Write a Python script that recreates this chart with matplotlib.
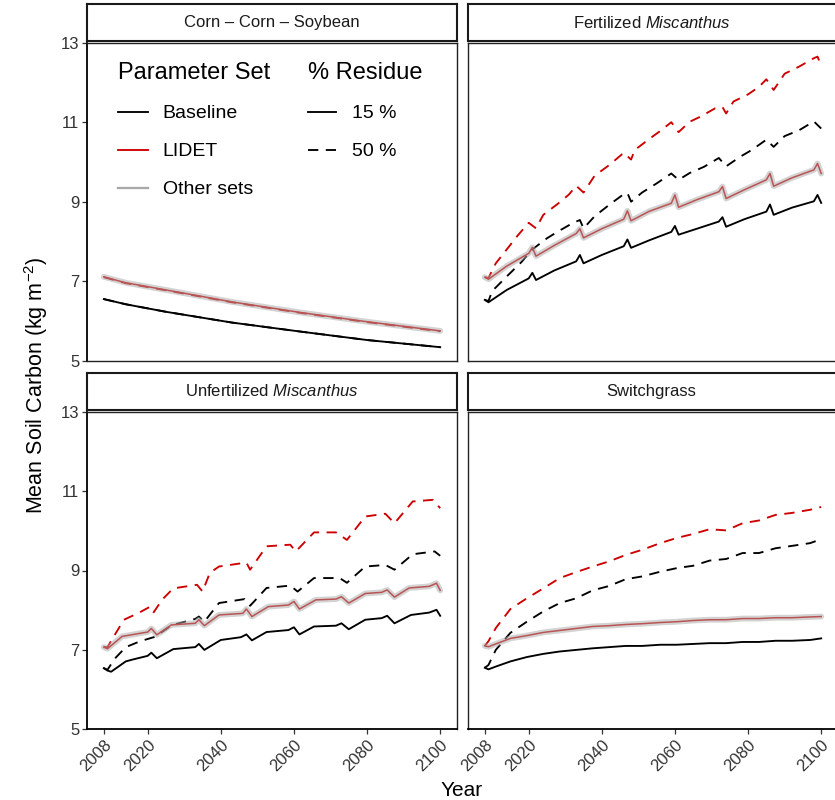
import numpy as np
import matplotlib.pyplot as plt
from matplotlib.lines import Line2D

plt.rcParams['font.family'] = ['Liberation Sans', 'DejaVu Sans']
plt.rcParams['mathtext.fontset'] = 'custom'
plt.rcParams['mathtext.rm'] = 'Liberation Sans'
plt.rcParams['mathtext.it'] = 'Liberation Sans:italic'
plt.rcParams['mathtext.default'] = 'regular'

RED = '#CD0000'
GREY = '#A8A8A8'
TXT = '#333333'

# ---- data ----
# Corn - Corn - Soybean
ccs_years = [2008, 2014, 2025, 2043, 2062, 2080, 2100]
ccs_base15 = [6.55, 6.42, 6.23, 5.96, 5.73, 5.52, 5.34]
ccs_base50 = [6.55, 6.42, 6.23, 5.96, 5.73, 5.52, 5.34]
ccs_lidet15 = [7.11, 6.96, 6.78, 6.48, 6.21, 5.98, 5.75]
ccs_lidet50 = [7.10, 6.95, 6.77, 6.47, 6.20, 5.97, 5.74]
ccs_other = [7.11, 6.96, 6.78, 6.48, 6.21, 5.98, 5.75]

# Fertilized Miscanthus
fm_years15 = [2008, 2009, 2014, 2020, 2021, 2022, 2027, 2033, 2034, 2035, 2040, 2046, 2047,
              2048, 2053, 2059, 2060, 2061, 2066, 2072, 2073, 2074, 2079, 2085, 2086, 2087,
              2092, 2098, 2099, 2100]
fm_base15 = [6.53, 6.47, 6.78, 7.07, 7.21, 7.03, 7.27, 7.50, 7.66, 7.45, 7.66, 7.88, 8.05,
             7.84, 8.03, 8.24, 8.39, 8.17, 8.32, 8.50, 8.61, 8.37, 8.56, 8.75, 8.93, 8.67,
             8.85, 9.01, 9.17, 8.97]
fm_lidet15 = [7.10, 7.05, 7.38, 7.70, 7.85, 7.63, 7.90, 8.20, 8.32, 8.09, 8.32, 8.56, 8.77,
              8.52, 8.76, 8.96, 9.17, 8.86, 9.05, 9.25, 9.38, 9.08, 9.30, 9.55, 9.71, 9.39,
              9.60, 9.80, 9.96, 9.71]
fm_other = fm_lidet15
fm_years_b50 = [2008, 2009, 2010, 2014, 2018, 2021, 2025, 2028, 2032, 2034, 2035, 2038, 2042,
                2046, 2047, 2048, 2051, 2055, 2059, 2061, 2064, 2068, 2072, 2074, 2078, 2081,
                2085, 2087, 2090, 2094, 2098, 2100]
fm_base50 = [6.53, 6.50, 6.75, 7.12, 7.48, 7.80, 8.08, 8.25, 8.46, 8.54, 8.33, 8.63, 8.92,
             9.19, 9.22, 9.00, 9.23, 9.46, 9.71, 9.55, 9.72, 9.88, 10.10, 9.89, 10.14, 10.30,
             10.56, 10.38, 10.65, 10.80, 11.02, 10.84]
fm_years_l50 = [2008, 2009, 2011, 2014, 2017, 2020, 2022, 2024, 2028, 2031, 2033, 2035, 2038,
                2042, 2046, 2048, 2049, 2053, 2056, 2059, 2061, 2064, 2067, 2071, 2073, 2074,
                2076, 2080, 2083, 2085, 2087, 2090, 2094, 2098, 2099, 2100]
fm_lidet50 = [7.10, 7.08, 7.45, 7.80, 8.15, 8.47, 8.33, 8.67, 8.95, 9.18, 9.40, 9.23, 9.65,
              9.92, 10.23, 10.06, 10.30, 10.58, 10.78, 11.00, 10.75, 11.01, 11.14, 11.35,
              11.38, 11.22, 11.52, 11.70, 11.89, 12.08, 11.81, 12.22, 12.40, 12.61, 12.65, 12.42]

# Unfertilized Miscanthus
um_years_b15 = [2008, 2009, 2010, 2014, 2016, 2020, 2021, 2022.5, 2027, 2033, 2034, 2035.5,
                2040, 2045.5, 2047, 2048.5, 2052.5, 2058.5, 2060, 2061.5, 2065.5, 2071.5, 2073,
                2075, 2079.5, 2084, 2085.5, 2087.5, 2092, 2097, 2099, 2100]
um_base15 = [6.54, 6.48, 6.45, 6.71, 6.76, 6.85, 6.93, 6.79, 7.02, 7.07, 7.15, 7.00, 7.25,
             7.32, 7.39, 7.24, 7.45, 7.50, 7.57, 7.39, 7.59, 7.61, 7.67, 7.52, 7.76, 7.80,
             7.86, 7.67, 7.88, 7.94, 8.01, 7.86]
um_years_l15 = [2008, 2009, 2013, 2020, 2021, 2022.5, 2026.5, 2033, 2034, 2035.5, 2039.5, 2046,
                2047, 2048.5, 2053, 2058.5, 2060, 2061.5, 2066, 2071.5, 2073, 2075, 2079.5,
                2084, 2085.5, 2087.5, 2091.5, 2097, 2099, 2100]
um_lidet15 = [7.07, 7.03, 7.34, 7.45, 7.54, 7.38, 7.63, 7.67, 7.76, 7.61, 7.88, 7.92, 8.03,
              7.84, 8.09, 8.13, 8.22, 8.03, 8.26, 8.28, 8.34, 8.18, 8.42, 8.45, 8.51, 8.33,
              8.56, 8.60, 8.68, 8.50]
um_other = um_lidet15
um_years_b50 = [2008, 2009, 2011, 2014, 2018, 2022, 2026.5, 2033, 2034, 2035.5, 2039.5, 2046.5,
                2048, 2052.5, 2059, 2061, 2065.5, 2072.5, 2074.5, 2079.5, 2085, 2087.5, 2092.5,
                2098.5, 2100]
um_base50 = [6.54, 6.50, 6.78, 7.07, 7.22, 7.33, 7.62, 7.78, 7.84, 7.71, 8.18, 8.28, 8.11,
             8.56, 8.62, 8.47, 8.81, 8.81, 8.69, 9.10, 9.14, 9.02, 9.41, 9.48, 9.37]
um_years_l50 = [2008, 2009, 2011, 2013.5, 2017.5, 2020.5, 2021.5, 2024, 2027, 2033.5, 2035,
                2037, 2039.5, 2047, 2048, 2052.5, 2059, 2060.5, 2065.5, 2071.5, 2074.5, 2079.5,
                2085, 2087.5, 2092.5, 2098, 2100]
um_lidet50 = [7.07, 7.07, 7.38, 7.76, 7.93, 8.08, 7.93, 8.27, 8.55, 8.64, 8.47, 8.94, 9.10,
              9.20, 9.02, 9.61, 9.65, 9.48, 9.96, 9.96, 9.77, 10.36, 10.43, 10.19, 10.74,
              10.78, 10.57]

# Switchgrass
sw_years = [2008, 2009, 2011, 2015, 2019.5, 2024, 2028.5, 2033, 2037.5, 2042, 2046.5, 2051,
            2056, 2060.5, 2065, 2069.5, 2074, 2078.5, 2083, 2087.5, 2092, 2097, 2100]
sw_base15 = [6.55, 6.51, 6.58, 6.71, 6.82, 6.90, 6.96, 7.00, 7.04, 7.07, 7.10, 7.10, 7.13,
             7.13, 7.15, 7.17, 7.17, 7.20, 7.20, 7.23, 7.23, 7.25, 7.29]
sw_lidet15 = [7.10, 7.08, 7.15, 7.29, 7.36, 7.44, 7.49, 7.54, 7.59, 7.61, 7.64, 7.66, 7.69,
              7.71, 7.74, 7.76, 7.76, 7.79, 7.79, 7.81, 7.81, 7.83, 7.84]
sw_other = sw_lidet15
sw_base50 = [6.55, 6.62, 7.00, 7.43, 7.71, 7.97, 8.18, 8.30, 8.50, 8.61, 8.78, 8.85, 8.97,
             9.06, 9.12, 9.25, 9.29, 9.44, 9.44, 9.56, 9.62, 9.69, 9.79]
sw_lidet50 = [7.10, 7.22, 7.55, 8.03, 8.30, 8.55, 8.81, 8.96, 9.10, 9.23, 9.39, 9.52, 9.69,
              9.82, 9.92, 10.04, 10.01, 10.19, 10.26, 10.40, 10.45, 10.53, 10.60]

titles = ['Corn \u2013 Corn \u2013 Soybean', 'Fertilized $\\it{Miscanthus}$',
          'Unfertilized $\\it{Miscanthus}$', 'Switchgrass']
year_ticks = [2008, 2020, 2040, 2060, 2080, 2100]
c_ticks = [5, 7, 9, 11, 13]

panels = [
    dict(b15=(ccs_years, ccs_base15), b50=(ccs_years, ccs_base50),
         l15=(ccs_years, ccs_lidet15), l50=(ccs_years, ccs_lidet50), oth=(ccs_years, ccs_other)),
    dict(b15=(fm_years15, fm_base15), b50=(fm_years_b50, fm_base50),
         l15=(fm_years15, fm_lidet15), l50=(fm_years_l50, fm_lidet50), oth=(fm_years15, fm_other)),
    dict(b15=(um_years_b15, um_base15), b50=(um_years_b50, um_base50),
         l15=(um_years_l15, um_lidet15), l50=(um_years_l50, um_lidet50), oth=(um_years_l15, um_other)),
    dict(b15=(sw_years, sw_base15), b50=(sw_years, sw_base50),
         l15=(sw_years, sw_lidet15), l50=(sw_years, sw_lidet50), oth=(sw_years, sw_other)),
]

# ---- layout in pixels (835 x 800) ----
W, H = 835, 800
def frac(x0, y0, x1, y1):
    return [x0 / W, 1 - y1 / H, (x1 - x0) / W, (y1 - y0) / H]

cols = [(87, 457), (468, 838)]
rows = [(41, 360.7), (410, 729.3)]
strips = [(4, 41), (373, 410)]

fig = plt.figure(figsize=(W / 100, H / 100), dpi=100)

DASH = (5.5, 4)
LW = 1.35

for i, p in enumerate(panels):
    r, c = divmod(i, 2)
    x0, x1 = cols[c]
    y0, y1 = rows[r]
    ax = fig.add_axes(frac(x0, y0 + 1.7, x1, y1))
    ax.plot(*p['b50'], color='black', lw=LW, ls='--', dashes=DASH)
    ax.plot(*p['b15'], color='black', lw=LW)
    ax.plot(*p['l50'], color=RED, lw=LW, ls='--', dashes=DASH)
    ax.plot(*p['l15'], color=RED, lw=1.1)
    ax.plot(*p['oth'], color=GREY, lw=4.2, alpha=0.5, solid_capstyle='round')
    ax.set_xlim(2003.4, 2104.6)
    ax.set_ylim(5, 13)
    ax.set_yticks(c_ticks)
    ax.set_xticks(year_ticks)
    ax.tick_params(colors=TXT, labelsize=12, length=3.5, width=0.9, pad=2)
    for s in ax.spines.values():
        s.set_color('#222222')
        s.set_linewidth(1.0)
    if c == 0:
        ax.spines['left'].set_color('black')
        ax.spines['left'].set_linewidth(1.3)
    else:
        ax.tick_params(axis='y', left=False, labelleft=False)
    if r == 1:
        ax.spines['bottom'].set_color('black')
        ax.spines['bottom'].set_linewidth(1.3)
        for lab in ax.get_xticklabels():
            lab.set_rotation(45)
            lab.set_ha('right')
            lab.set_va('top')
            lab.set_rotation_mode('anchor')
    else:
        ax.tick_params(axis='x', bottom=False, labelbottom=False)

    # facet strip
    s0, s1 = strips[r]
    sax = fig.add_axes(frac(x0, s0, x1, s1))
    sax.set_xticks([])
    sax.set_yticks([])
    for s in sax.spines.values():
        s.set_color('#1a1a1a')
        s.set_linewidth(1.5)
    sax.text(0.5 if c == 0 else (0.5 * (x1 - x0) - 1.5) / (x1 - x0), 0.5, titles[i],
             ha='center', va='center', fontsize=12, color='#1a1a1a')

    if i == 0:
        h1 = [Line2D([], [], color='black', lw=LW), Line2D([], [], color=RED, lw=LW),
              Line2D([], [], color=GREY, lw=LW + 0.3)]
        leg1 = ax.legend(h1, ['Baseline', 'LIDET', 'Other sets'], title='Parameter Set',
                         loc='upper left', bbox_to_anchor=(0.084, 0.938), frameon=False,
                         fontsize=14, title_fontsize=17, handlelength=1.55,
                         handletextpad=0.75, labelspacing=1.05, borderpad=0,
                         borderaxespad=0, alignment='left')
        ax.add_artist(leg1)
        h2 = [Line2D([], [], color='black', lw=LW),
              Line2D([], [], color='black', lw=LW, ls='--', dashes=DASH)]
        ax.legend(h2, ['15 %', '50 %'], title='% Residue',
                  loc='upper left', bbox_to_anchor=(0.597, 0.938), frameon=False,
                  fontsize=14, title_fontsize=17, handlelength=1.45,
                  handletextpad=0.8, labelspacing=1.05, borderpad=0,
                  borderaxespad=0, alignment='left')

fig.text(36 / W, 1 - 385 / H, 'Mean Soil Carbon (kg m$^{-2}$)', rotation=90,
         ha='center', va='center', fontsize=15.5, color='black')
fig.text(462 / W, 1 - 790 / H, 'Year', ha='center', va='center', fontsize=15, color='black')

fig.savefig('out.png', dpi=100)
